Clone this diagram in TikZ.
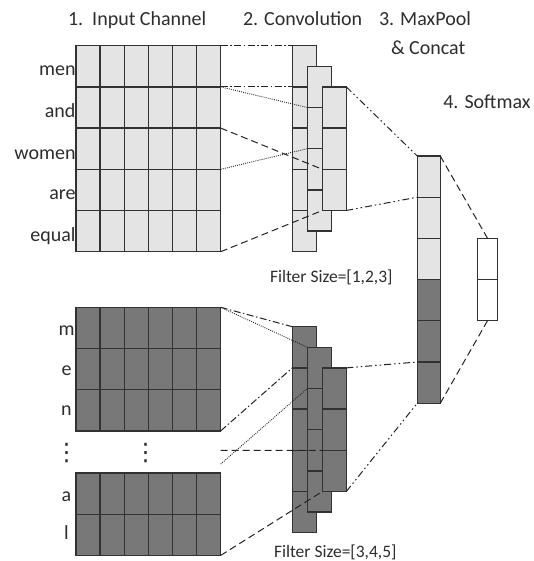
\documentclass[tikz,border=0pt]{standalone}
\usepackage{fontspec}
\setmainfont{Carlito}
\newfontfamily\dejavu{DejaVu Sans}
\usetikzlibrary{calc}
\definecolor{lightg}{RGB}{228,228,228}
\definecolor{darkg}{RGB}{120,120,120}
\definecolor{bordc}{RGB}{50,50,50}
\definecolor{linec}{RGB}{35,35,35}
\definecolor{txtc}{RGB}{45,45,45}
\newcommand\mygrid[3]{%
  \pgfmathtruncatemacro\myr{#2-1}%
  \pgfmathtruncatemacro\myc{#3-1}%
  \ifnum\myr>0
    \foreach \k in {1,...,\myr}
      \draw[gridl] ($(#1.north west)!\k/#2!(#1.south west)$) -- ($(#1.north east)!\k/#2!(#1.south east)$);
  \fi
  \ifnum\myc>0
    \foreach \k in {1,...,\myc}
      \draw[gridl] ($(#1.north west)!\k/#3!(#1.north east)$) -- ($(#1.south west)!\k/#3!(#1.south east)$);
  \fi
}
\begin{document}
\begin{tikzpicture}[x=1pt,y=-1pt,
  box/.style={rectangle, draw=bordc, line width=1.3pt, inner sep=0pt, outer sep=0pt, anchor=north west},
  lbox/.style={box, fill=lightg},
  dbox/.style={box, fill=darkg},
  wbox/.style={box, fill=white},
  gridl/.style={draw=bordc, line width=1.3pt},
  conn/.style={draw=linec, line width=1pt},
  dashdotA/.style={conn, dash pattern=on 7pt off 2.5pt on 1.5pt off 2.5pt},
  ddot/.style={conn, dash pattern=on 7pt off 3pt on 1.5pt off 3pt on 1.5pt off 3pt},
  dotline/.style={conn, line width=0.9pt, dash pattern=on 0.9pt off 1.2pt},
  dashline/.style={conn, dash pattern=on 7pt off 4pt},
  txt/.style={inner sep=0pt, outer sep=0pt, text=txtc, font=\fontsize{20}{24}\selectfont},
  ftxt/.style={txt, font=\fontsize{17.5}{21}\selectfont},
  vdots/.style={inner sep=0pt, text=txtc, font=\dejavu\fontsize{24}{24}\selectfont}
]
\useasboundingbox (0,0) rectangle (534,561);

% titles
\node[txt, anchor=base west] (t1) at (68,26) {1.\ \ Input Channel};
\node[txt, anchor=base west] (t2) at (243,26) {2. Convolution};
\node[txt, anchor=base west] (t3) at (379,26) {3. MaxPool};
\node[txt, anchor=base west] (t3b) at (391,54.3) {\& Concat};
\node[txt, anchor=base west] (t4) at (443.3,108.3) {4. Softmax};
\node[ftxt, anchor=base west] (f1) at (270,282) {Filter Size=[1,2,3]};
\node[ftxt, anchor=base west] (f2) at (274,557) {Filter Size=[3,4,5]};

% top input
\node[lbox, minimum width=144.7pt, minimum height=206pt] (in1) at (76,45.7) {};
\mygrid{in1}{5}{6}
\node[txt, anchor=base east] (w1) at (75.5,76) {men};
\node[txt, anchor=base east] (w2) at (75.5,117.3) {and};
\node[txt, anchor=base east] (w3) at (75.5,159.3) {women};
\node[txt, anchor=base east] (w4) at (75.5,199.3) {are};
\node[txt, anchor=base east] (w5) at (75.5,241.7) {equal};

% bottom input
\node[dbox, minimum width=144.7pt, minimum height=123.6pt] (in2a) at (76,307.3) {};
\mygrid{in2a}{3}{6}
\node[dbox, minimum width=144.7pt, minimum height=82.4pt] (in2b) at (76,473) {};
\mygrid{in2b}{2}{6}
\node[txt, anchor=base] (l1) at (66.5,335) {m};
\node[txt, anchor=base] (l2) at (66.5,375.7) {e};
\node[txt, anchor=base] (l3) at (66.5,415) {n};
\node[txt, anchor=base] (l4) at (66.5,501) {a};
\node[txt, anchor=base] (l5) at (66.5,539) {l};
\node[vdots] (v1) at (66.7,453) {⋮};
\node[vdots] (v2) at (145.7,453) {⋮};

% top convolution
\node[lbox, minimum width=24pt, minimum height=206pt] (c1a) at (292.3,45.7) {};
\mygrid{c1a}{5}{1}
\node[lbox, minimum width=24pt, minimum height=164.8pt] (c1b) at (307.3,66.3) {};
\mygrid{c1b}{4}{1}
\node[lbox, minimum width=24pt, minimum height=123.6pt] (c1c) at (322.3,86.9) {};
\mygrid{c1c}{3}{1}

% bottom convolution
\node[dbox, minimum width=24pt, minimum height=206pt] (c2a) at (292.3,326.7) {};
\mygrid{c2a}{5}{1}
\node[dbox, minimum width=24pt, minimum height=164.8pt] (c2b) at (307.3,347.3) {};
\mygrid{c2b}{4}{1}
\node[dbox, minimum width=24pt, minimum height=123.6pt] (c2c) at (322.3,367.9) {};
\mygrid{c2c}{3}{1}

% max pool
\node[lbox, minimum width=23pt, minimum height=247.2pt] (mp) at (417.3,156) {};
\fill[darkg] (mp.west) rectangle (mp.south east);
\mygrid{mp}{6}{1}
\draw[gridl] (mp.north west) rectangle (mp.south east);

% softmax
\node[wbox, minimum width=20.4pt, minimum height=82.4pt] (sm) at (477.3,238.3) {};
\mygrid{sm}{2}{1}

% top connectors
\draw[dashdotA] (in1.north east) -- (c1a.north west);
\draw[dashdotA] ($(in1.north east)!1/5!(in1.south east)$) -- ($(c1a.north west)!1/5!(c1a.south west)$);
\draw[dotline] ($(in1.north east)!1/5!(in1.south east)$) -- ($(c1b.north west)!1/4!(c1b.south west)$);
\draw[dotline] ($(in1.north east)!3/5!(in1.south east)$) -- ($(c1b.north west)!2/4!(c1b.south west)$);
\draw[dashline] ($(in1.north east)!2/5!(in1.south east)$) -- ($(c1c.north west)!2/3!(c1c.south west)$);
\draw[dashline] (in1.south east) -- (c1c.south west);
\draw[ddot] (c1c.north east) -- (mp.north west);
\draw[ddot] (c1c.south east) -- ($(mp.north west)!1/6!(mp.south west)$);
\draw[dashline] (mp.north east) -- (sm.north);
\draw[dashline] (mp.south east) -- (sm.south);

% bottom connectors
\coordinate (gapA) at (220.7,464);
\coordinate (gapB) at (220.7,450.3);
\draw[dashdotA] (in2a.north east) -- (c2a.north west);
\draw[dashdotA] (in2a.south east) -- ($(c2a.north west)!1/5!(c2a.south west)$);
\draw[dotline] (in2a.north east) -- (c2b.north west);
\draw[dotline] (gapA) -- ($(c2b.north west)!1/4!(c2b.south west)$);
\draw[dashline] (gapB) -- ($(c2c.north west)!2/3!(c2c.south west)$);
\draw[dashline] (in2b.south east) -- (c2c.south west);
\draw[ddot] (c2c.north east) -- ($(mp.north west)!5/6!(mp.south west)$);
\draw[ddot] (c2c.south east) -- (mp.south west);
\end{tikzpicture}
\end{document}
